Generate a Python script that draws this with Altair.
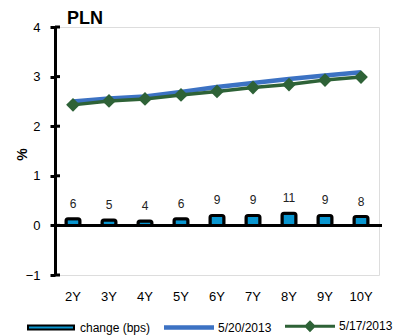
import altair as alt
import pandas as pd

tenors = ["2Y", "3Y", "4Y", "5Y", "6Y", "7Y", "8Y", "9Y", "10Y"]
change_bps = [6, 5, 4, 6, 9, 9, 11, 9, 8]
yield_0520 = [2.50, 2.56, 2.60, 2.69, 2.79, 2.87, 2.95, 3.02, 3.09]
yield_0517 = [2.43, 2.51, 2.55, 2.63, 2.70, 2.78, 2.84, 2.93, 2.99]
y_ticks = [-1, 0, 1, 2, 3, 4]
series_names = ["change (bps)", "5/20/2013", "5/17/2013"]

FONT = "Liberation Sans"
BLUE = "#3C72C3"
GREEN = "#2E6237"
CYAN = "#0996D0"

df = pd.DataFrame({"tenor": tenors, "change": change_bps,
                   "y0520": yield_0520, "y0517": yield_0517})
ticks_df = pd.DataFrame({"v": y_ticks})
legend_df = pd.DataFrame({"series": series_names, "tenor": ["2Y"] * 3, "v": [0] * 3})

x_enc = alt.X("tenor:N", sort=tenors,
              scale=alt.Scale(domain=tenors, paddingInner=0, paddingOuter=0),
              axis=alt.Axis(title=None, domain=False, ticks=False, tickSize=0,
                            labelPadding=15, labelFontSize=13, labelFont=FONT,
                            labelColor="black", labelAngle=0))
y_scale = alt.Scale(domain=[-1, 4], nice=False, zero=False)

base = alt.Chart(df)

bars = base.transform_calculate(bv="datum.change / 45").mark_bar(
    size=14, fill=CYAN, stroke="black", strokeWidth=3, cornerRadius=2
).encode(
    x=x_enc,
    y=alt.Y("bv:Q", scale=y_scale,
            axis=alt.Axis(title="%", values=y_ticks, grid=False, domainColor="black",
                          domainWidth=3, tickColor="black", tickWidth=3, tickSize=5,
                          labelPadding=10, labelFontSize=13, labelFont=FONT,
                          labelColor="black", titleFont=FONT, titleFontSize=14,
                          titleFontWeight="bold", titleColor="black", titleAngle=270,
                          titleAlign="center", titleBaseline="middle",
                          titleX=-33, titleY=127)),
)

labels = base.transform_calculate(bv="datum.change / 45").mark_text(
    baseline="alphabetic", dy=-11, fontSize=12, font=FONT, color="#222222"
).encode(x=alt.X("tenor:N", sort=tenors), y=alt.Y("bv:Q", scale=y_scale), text="change:Q")

zero = base.mark_rule(color="black", strokeWidth=3).encode(
    y=alt.datum(0), x=alt.value(0), x2=alt.value(327))

inner_ticks = alt.Chart(ticks_df).mark_rule(color="black", strokeWidth=3).encode(
    y=alt.Y("v:Q", scale=y_scale), x=alt.value(0), x2=alt.value(5))

line_blue = base.mark_line(color=BLUE, strokeWidth=4.5).encode(
    x=alt.X("tenor:N", sort=tenors), y=alt.Y("y0520:Q", scale=y_scale))
line_green = base.mark_line(color=GREEN, strokeWidth=3.5).encode(
    x=alt.X("tenor:N", sort=tenors), y=alt.Y("y0517:Q", scale=y_scale))
pts_green = base.mark_point(shape="diamond", filled=True, color=GREEN, size=190, opacity=1).encode(
    x=alt.X("tenor:N", sort=tenors), y=alt.Y("y0517:Q", scale=y_scale))

legend = alt.Legend(title=None, orient="none", legendX=-30, legendY=273, direction="horizontal",
                    symbolSize=2500, symbolStrokeWidth=2, symbolOpacity=1,
                    labelFont=FONT, labelFontSize=12, labelColor="black",
                    labelOffset=3, columnPadding=10, padding=0, gridAlign="each")
paths = ["M-0.92,-0.08H0.92V0.08H-0.92Z",
         "M-0.96,-0.05H0.96V0.05H-0.96Z",
         "M-0.96,-0.02H0.96V0.02H-0.96Z M-0.18,0L0,-0.18L0.18,0L0,0.18Z"]
legend_layer = alt.Chart(legend_df).mark_point(filled=True, opacity=0).encode(
    x=alt.X("tenor:N", sort=tenors),
    y=alt.Y("v:Q", scale=y_scale),
    shape=alt.Shape("series:N", sort=series_names,
                    scale=alt.Scale(domain=series_names, range=paths), legend=legend),
    fill=alt.Fill("series:N", sort=series_names,
                  scale=alt.Scale(domain=series_names, range=[CYAN, BLUE, GREEN]), legend=legend),
    stroke=alt.Stroke("series:N", sort=series_names,
                      scale=alt.Scale(domain=series_names, range=["black", BLUE, GREEN]), legend=legend),
)

chart = alt.layer(bars, zero, inner_ticks, labels, line_blue, line_green, pts_green, legend_layer).properties(
    width=324, height=248,
    title=alt.TitleParams("PLN", anchor="start", frame="group", font=FONT, fontSize=18,
                          fontWeight="bold", color="black", dx=12, dy=10, offset=3),
    autosize=alt.AutoSizeParams(type="none"),
    padding={"left": 55, "top": 27, "right": 22, "bottom": 61},
).configure_view(stroke=None).configure(background="white")

chart.save("out.html", embed_options={"renderer": "svg", "actions": False})
